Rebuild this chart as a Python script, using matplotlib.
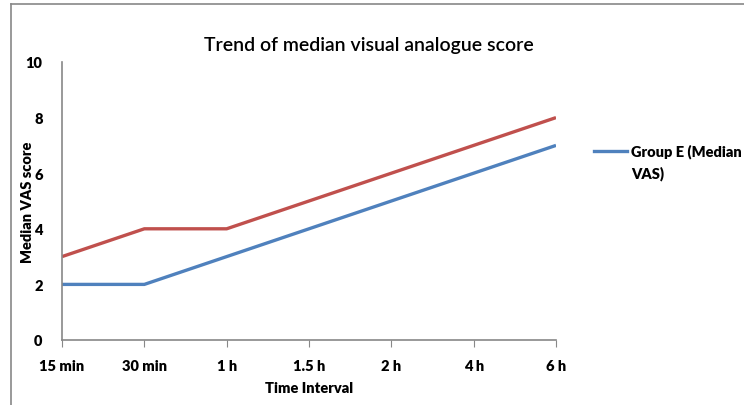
import matplotlib.pyplot as plt
from matplotlib.lines import Line2D

time_labels = ['15 min', '30 min', '1 h', '1.5 h', '2 h', '4 h', '6 h']
group_e = [2, 2, 3, 4, 5, 6, 7]
group_other = [3, 4, 4, 5, 6, 7, 8]

plt.rcParams['font.family'] = ['Lato', 'DejaVu Sans']
WT = 'heavy'

W, H = 744, 406
fig = plt.figure(figsize=(W / 100, H / 100), dpi=100)
ax = fig.add_axes([62 / W, 1 - 341 / H, (556 - 62) / W, (341 - 63) / H])

x = range(len(time_labels))
ax.plot(x, group_other, color='#C0504D', lw=2.4, solid_capstyle='butt')
ax.plot(x, group_e, color='#4F81BD', lw=2.4, solid_capstyle='butt')

ax.set_xlim(0, len(time_labels) - 1)
ax.set_ylim(0, 10)
ax.set_yticks(range(0, 11, 2))
ax.set_xticks(list(x))
ax.set_xticklabels(time_labels, fontsize=10.5, fontweight=WT)
ax.set_yticklabels([str(v) for v in range(0, 11, 2)], fontsize=10.5, fontweight=WT)
ax.tick_params(axis='x', length=5, color='#888888', pad=9)
ax.tick_params(axis='y', length=0, pad=14)
for s in ['top', 'right']:
    ax.spines[s].set_visible(False)
for s in ['left', 'bottom']:
    ax.spines[s].set_color('#888888')
    ax.spines[s].set_linewidth(1.2)

fig.text(27 / W, 1 - 202 / H, 'Median VAS score', rotation=90, ha='center', va='center',
         fontsize=10.5, fontweight=WT)
fig.text(309 / W, 1 - 389 / H, 'Time Interval', ha='center', va='center',
         fontsize=10.5, fontweight=WT)
fig.text(369 / W, 1 - 45 / H, 'Trend of median visual analogue score', ha='center', va='center',
         fontsize=14, fontweight='semibold')

# legend (only first series shown, as in the original)
fig.add_artist(Line2D([594 / W, 627 / W], [1 - 152 / H] * 2, color='#4F81BD', lw=2.4))
fig.text(631 / W, 1 - 152 / H, 'Group E (Median', ha='left', va='center',
         fontsize=10.5, fontweight=WT)
fig.text(631 / W, 1 - 174 / H, 'VAS)', ha='left', va='center',
         fontsize=10.5, fontweight=WT)

# outer chart frame (clipped in the original)
fig.add_artist(Line2D([11 / W, 1], [1 - 5 / H] * 2, color='#888888', lw=1.2))
fig.add_artist(Line2D([11 / W] * 2, [0, 1 - 5 / H], color='#888888', lw=1.2))

fig.savefig('out.png', dpi=100)
